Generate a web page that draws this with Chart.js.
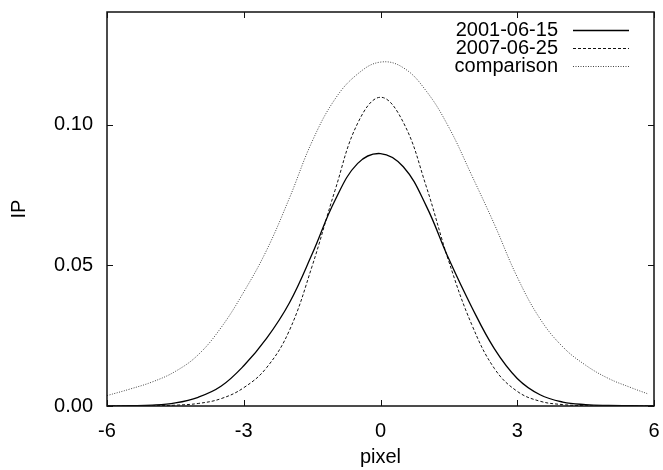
<!DOCTYPE html>
<html>
<head>
<meta charset="utf-8">
<script src="https://cdn.jsdelivr.net/npm/chart.js@4.4.1/dist/chart.umd.min.js"></script>
<style>
  html, body { margin: 0; padding: 0; background: #fff; }
  #wrap { width: 663px; height: 470px; position: relative; }
</style>
</head>
<body>
<div id="wrap"><canvas id="ipChart"></canvas></div>
<script>
  'use strict';

  // IP profiles
  var pixels = [-6, -5.5, -5, -4.5, -4, -3.5, -3, -2.5, -2, -1.5, -1, -0.5, 0,
    0.5, 1, 1.5, 2, 2.5, 3, 3.5, 4, 4.5, 5, 5.5, 6];
  var ip2001 = [0.0000, 0.0001, 0.0003, 0.0011, 0.0031, 0.0070, 0.0143, 0.0240, 0.0366,
    0.0540, 0.0730, 0.0862, 0.0897, 0.0850, 0.0712, 0.0522, 0.0352, 0.0203, 0.0098,
    0.0040, 0.0014, 0.0005, 0.0002, 0.0001, 0.0000];
  var ip2007 = [0.0000, 0.0000, 0.0001, 0.0003, 0.0009, 0.0026, 0.0065, 0.0136, 0.0268,
    0.0497, 0.0765, 0.1005, 0.1097, 0.1008, 0.0782, 0.0513, 0.0290, 0.0133, 0.0052,
    0.0017, 0.0005, 0.0001, 0.0000, 0.0000, 0.0000];
  var compPixels = [-6, -5.5, -5, -4.5, -4, -3.5, -3, -2.5, -2, -1.5, -1, -0.5, 0,
    0.5, 1, 1.5, 2, 2.5, 3, 3.5, 4, 4.5, 5, 5.5, 5.85];
  var ipComparison = [0.0037, 0.0060, 0.0086, 0.0123, 0.0182, 0.0278, 0.0405, 0.0553, 0.0738,
    0.0940, 0.1090, 0.1180, 0.1222, 0.1202, 0.1120, 0.0990, 0.0820, 0.0645, 0.0458,
    0.0310, 0.0210, 0.0145, 0.0098, 0.0065, 0.0044];

  var xTicks = [-6, -3, 0, 3, 6];
  var yTicks = [0, 0.05, 0.10];

  function pts(xs, ys) {
    return xs.map(function (x, i) { return { x: x, y: ys[i] }; });
  }

  var FONT = { family: '"Liberation Sans", Arial, sans-serif', size: 20 };

  // gnuplot style frame with inward ticks on all four sides
  var framePlugin = {
    id: 'frame',
    afterDraw: function (chart) {
      var c = chart.ctx, a = chart.chartArea;
      var sx = chart.scales.x, sy = chart.scales.y;
      c.save();
      c.strokeStyle = '#111';
      c.lineWidth = 1.5;
      c.strokeRect(a.left, a.top, a.right - a.left, a.bottom - a.top);
      c.lineWidth = 1;
      c.beginPath();
      xTicks.forEach(function (v) {
        var px = Math.round(sx.getPixelForValue(v)) + 0.5;
        c.moveTo(px, a.bottom); c.lineTo(px, a.bottom - 6);
        c.moveTo(px, a.top); c.lineTo(px, a.top + 6);
      });
      yTicks.forEach(function (v) {
        var py = Math.round(sy.getPixelForValue(v)) + 0.5;
        c.moveTo(a.left, py); c.lineTo(a.left + 6, py);
        c.moveTo(a.right, py); c.lineTo(a.right - 6, py);
      });
      c.stroke();

      // key, top right
      c.font = FONT.size + 'px ' + FONT.family;
      c.textAlign = 'right';
      c.textBaseline = 'middle';
      chart.data.datasets.forEach(function (ds, i) {
        var y = a.top + 18 + i * 18;
        c.fillStyle = '#000';
        c.fillText(ds.label, a.right - 96, y);
        c.strokeStyle = ds.borderColor;
        c.lineWidth = ds.borderWidth;
        c.setLineDash(ds.borderDash || []);
        c.beginPath();
        c.moveTo(a.right - 81, y + 0.5);
        c.lineTo(a.right - 25, y + 0.5);
        c.stroke();
      });
      c.restore();
    }
  };

  new Chart(document.getElementById('ipChart'), {
    type: 'line',
    data: {
      datasets: [
        {
          label: '2001-06-15',
          data: pts(pixels, ip2001),
          borderColor: '#000',
          borderWidth: 1.3,
          borderDash: []
        },
        {
          label: '2007-06-25',
          data: pts(pixels, ip2007),
          borderColor: '#111',
          borderWidth: 1,
          borderDash: [3, 2]
        },
        {
          label: 'comparison',
          data: pts(compPixels, ipComparison),
          borderColor: '#444',
          borderWidth: 1,
          borderDash: [1, 1.5]
        }
      ]
    },
    options: {
      responsive: true,
      maintainAspectRatio: false,
      animation: false,
      layout: { padding: { top: 12, right: 9, left: 0, bottom: 0 } },
      elements: {
        point: { radius: 0 },
        line: { tension: 0.4, fill: false }
      },
      plugins: {
        legend: { display: false },
        tooltip: { enabled: false }
      },
      scales: {
        x: {
          type: 'linear',
          min: -6,
          max: 6,
          grid: { display: false, drawTicks: false },
          border: { display: false },
          afterBuildTicks: function (s) { s.ticks = xTicks.map(function (v) { return { value: v }; }); },
          afterFit: function (s) {
            s.height = 64;
            s.paddingLeft = 0;
            s.paddingRight = 0;
          },
          ticks: {
            padding: 13,
            color: '#000',
            font: FONT,
            maxRotation: 0,
            callback: function (v) { return String(v); }
          },
          title: {
            display: true,
            text: 'pixel',
            color: '#000',
            font: FONT,
            padding: { top: 0, bottom: 1 }
          }
        },
        y: {
          min: 0,
          max: 0.14,
          grid: { display: false, drawTicks: false },
          border: { display: false },
          afterBuildTicks: function (s) { s.ticks = yTicks.map(function (v) { return { value: v }; }); },
          afterFit: function (s) {
            s.width = 107;
            s.paddingTop = 0;
            s.paddingBottom = 0;
          },
          ticks: {
            padding: 14,
            color: '#000',
            font: FONT,
            callback: function (v) { return v.toFixed(2); }
          },
          title: {
            display: true,
            text: 'IP',
            color: '#000',
            font: FONT,
            padding: { top: 7, bottom: 0 }
          }
        }
      }
    },
    plugins: [framePlugin]
  });
</script>
</body>
</html>
